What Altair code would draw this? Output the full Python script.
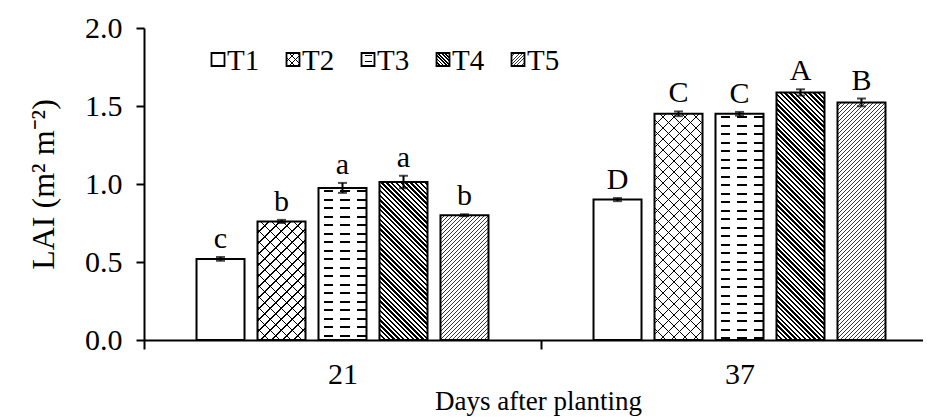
import altair as alt
import pandas as pd

# ---------------- data ----------------
days = ["21", "37"]
treatments = ["T1", "T2", "T3", "T4", "T5"]
lai_21 = [0.52, 0.76, 0.975, 1.013, 0.80]
lai_37 = [0.90, 1.45, 1.45, 1.587, 1.523]
err_21 = [0.012, 0.010, 0.032, 0.040, 0.006]
err_37 = [0.010, 0.015, 0.012, 0.020, 0.025]
letters_21 = ["c", "b", "a", "a", "b"]
letters_37 = ["D", "C", "C", "A", "B"]
y_ticks = [0, 0.5, 1.0, 1.5, 2.0]

rows = []
for d, vals, errs, lets in [("21", lai_21, err_21, letters_21),
                            ("37", lai_37, err_37, letters_37)]:
    for t, v, e, l in zip(treatments, vals, errs, lets):
        rows.append(dict(day=d, trt=t, lai=v, lo=v - e, hi=v + e, letter=l))
df = pd.DataFrame(rows)
legend_df = pd.DataFrame({"trt": treatments})

# ---------------- layout / style ----------------
PLOT_W, PLOT_H = 779, 312
X_RANGE = 794
Y_MAX = 2.0
BAR_W = 48
PX = PLOT_H / Y_MAX
FONT = "Liberation Serif"
CLEAR = "rgba(255,255,255,0)"


def stripes(n, frac, on, off=CLEAR, phase=0.0):
    p = 1.0 / n
    segs = []
    k = -1
    while k * p < 1.0 + p:
        a = (k + phase) * p
        b = a + frac * p
        c = (k + 1 + phase) * p
        segs.append((a, b, on))
        segs.append((b, c, off))
        k += 1
    stops = []
    for s, e, col in segs:
        s2, e2 = max(0.0, s), min(1.0, e)
        if e2 > s2:
            stops.append({"offset": round(s2, 5), "color": col})
            stops.append({"offset": round(e2, 5), "color": col})
    return stops


def diag(direction, w, h, period, frac, color):
    r = h / w
    dx = (1 + r) / (1 + r * r)
    n = (w + h) / period
    g = {"gradient": "linear", "stops": stripes(n, frac, color)}
    if direction == "/":
        g.update(x1=0, y1=0, x2=dx, y2=dx * r)
    else:
        g.update(x1=0, y1=1, x2=dx, y2=1 - dx * r)
    return g


def rows_grad(h, period, frac, color):
    return {"gradient": "linear", "x1": 0, "y1": 0, "x2": 0, "y2": 1,
            "stops": stripes(h / period, frac, color, phase=0.3)}


def cols_mask(w, period, gap_frac, phase):
    return {"gradient": "linear", "x1": 0, "y1": 0, "x2": 1, "y2": 0,
            "stops": stripes(w / period, gap_frac, "white", phase=phase)}


def fills(trt, w, h, scale=1.0):
    if trt == "T2":
        return [diag("/", w, h, 11 * scale, 0.13, "black"),
                diag("\\", w, h, 11 * scale, 0.13, "black")]
    if trt == "T3":
        return [rows_grad(h, 8.5 * scale, 0.22, "black"),
                cols_mask(w, 16.5 * scale, 7 / 16.5, 0.909)]
    if trt == "T4":
        return [diag("\\", w, h, 4.8 * scale, 0.52, "black")]
    if trt == "T5":
        return [diag("/", w, h, 4.0 * scale, 0.26, "#3a3a3a")]
    return []


# ---------------- encodings ----------------
x_scale = alt.Scale(domain=days, range=[0, X_RANGE], paddingInner=0, paddingOuter=0)
x_axis = alt.Axis(title="Days after planting", labelAngle=0, tickBand="extent",
                  tickSize=9, labelPadding=10, titlePadding=-1, titleX=394,
                  titleAlign="center", labelFontSize=30)
y_scale = alt.Scale(domain=[0, Y_MAX], nice=False, zero=True)
y_axis = alt.Axis(values=y_ticks, format=".1f", title="LAI (m\u00b2 m\u207b\u00b2)",
                  tickSize=8, labelPadding=14, titlePadding=24, labelFontSize=30,
                  titleFontSize=32)

X = alt.X("day:N", scale=x_scale, axis=x_axis)
XO = alt.XOffset("trt:N", scale=alt.Scale(domain=treatments, paddingInner=0.213,
                                         paddingOuter=0.861))


def Y(field):
    return alt.Y(f"{field}:Q", scale=y_scale, axis=y_axis)


base = alt.Chart(df)
layers = [base.mark_bar(fill="white", strokeWidth=0).encode(x=X, xOffset=XO, y=Y("lai"))]

for r in rows:
    h = r["lai"] * PX
    for g in fills(r["trt"], BAR_W, h):
        layers.append(
            base.transform_filter(
                (alt.datum.day == r["day"]) & (alt.datum.trt == r["trt"])
            ).mark_bar(fill=g, strokeWidth=0).encode(x=X, xOffset=XO, y=Y("lai"))
        )

layers.append(base.mark_bar(fill="white", fillOpacity=0, stroke="black", strokeWidth=2)
              .encode(x=X, xOffset=XO, y=Y("lai")))
layers.append(base.mark_rule(color="black", strokeWidth=2)
              .encode(x=X, xOffset=XO, y=Y("lo"), y2="hi:Q"))
layers.append(base.mark_tick(color="black", thickness=2, size=9)
              .encode(x=X, xOffset=XO, y=Y("hi")))
layers.append(base.mark_tick(color="black", thickness=2, size=9)
              .encode(x=X, xOffset=XO, y=Y("lo")))
layers.append(base.mark_text(font=FONT, fontSize=30, baseline="bottom", dy=-3, color="black")
              .encode(x=X, xOffset=XO, y=Y("hi"), text="letter:N"))

# ---------------- legend (pattern swatches) ----------------
SW = 13
for i, t in enumerate(treatments):
    lx = 74 + 75 * i
    ly = 31.5
    lb = alt.Chart(legend_df).transform_filter(alt.datum.trt == t)
    layers.append(lb.mark_square(size=SW * SW, fill="white", strokeWidth=0, opacity=1)
                  .encode(x=alt.value(lx), y=alt.value(ly)))
    for g in fills(t, SW, SW, scale=0.7):
        layers.append(lb.mark_square(size=SW * SW, fill=g, strokeWidth=0, opacity=1)
                      .encode(x=alt.value(lx), y=alt.value(ly)))
    layers.append(lb.mark_square(size=SW * SW, fill="white", fillOpacity=0,
                                 stroke="black", strokeWidth=1.8, opacity=1)
                  .encode(x=alt.value(lx), y=alt.value(ly)))
    layers.append(lb.mark_text(font=FONT, fontSize=29, align="left", baseline="middle",
                               color="black")
                  .encode(x=alt.value(lx + 9), y=alt.value(ly + 1), text="trt:N"))

chart = alt.layer(*layers).properties(
    width=PLOT_W, height=PLOT_H,
    autosize=alt.AutoSizeParams(type="none"),
    padding={"left": 136, "top": 20, "right": 0, "bottom": 79},
    background="white",
).configure_axis(
    domainColor="black", domainWidth=2, tickColor="black", tickWidth=2,
    labelColor="black", titleColor="black", labelFont=FONT, titleFont=FONT,
    titleFontSize=27, titleFontWeight="normal", grid=False,
).configure_view(stroke=None)

chart.save("out.html", embed_options={"renderer": "svg", "actions": False})
